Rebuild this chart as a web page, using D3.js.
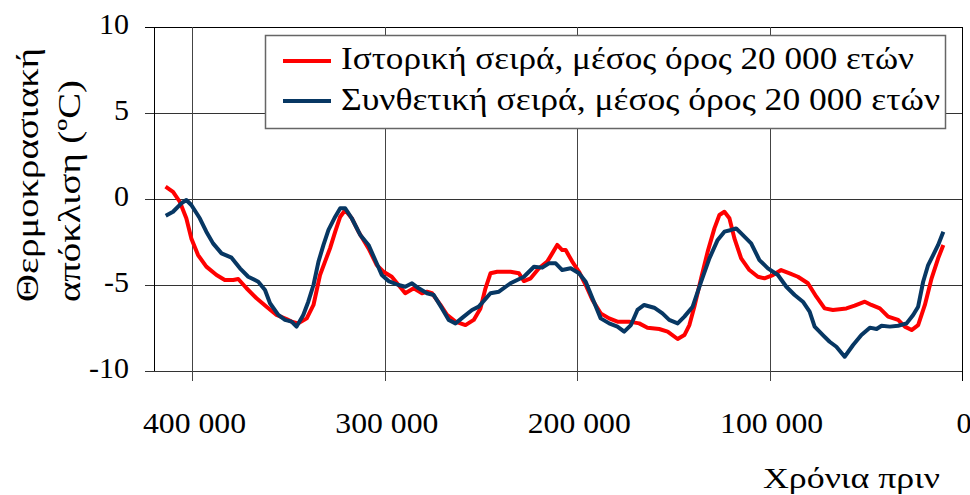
<!DOCTYPE html>
<html>
<head>
<meta charset="utf-8">
<script src="https://cdn.jsdelivr.net/npm/d3@7"></script>
<style>
  body { margin: 0; background: #fff; }
  text { font-family: "Liberation Serif", "DejaVu Serif", serif; fill: #000; }
</style>
</head>
<body>
<div id="chart"></div>
<script>
// years before present
const histYears = [414000, 410100, 406600, 403200, 400600, 397100, 392800, 387500, 383200, 378800,
  376200, 371900, 366700, 361500, 356300, 351100, 348500, 345000, 340600, 337100,
  333700, 331100, 328500, 325800, 323200, 320600, 317200, 313700, 308500, 304200,
  300700, 296400, 292900, 289400, 285000, 280700, 278100, 275500, 271100, 267700,
  263300, 258100, 253800, 250300, 247700, 245100, 241600, 234700, 230300, 227700,
  224200, 219900, 215600, 213000, 210400, 207800, 206000, 202600, 199100, 195600,
  192100, 187800, 183400, 179100, 173000, 167800, 163500, 157400, 153000, 147800,
  144300, 141700, 139100, 135600, 132200, 128700, 126100, 123500, 120900, 118300,
  114800, 110500, 106100, 102700, 98300, 94000, 89600, 85300, 80100, 75700,
  71400, 67100, 60100, 55800, 50500, 47100, 42700, 38400, 33200, 29700,
  26200, 22800, 19300, 15800, 12400, 9700];
const histValues = [0.72, 0.42, -0.16, -1.12, -2.29, -3.26, -3.93, -4.42, -4.71, -4.71,
  -4.65, -5.19, -5.77, -6.26, -6.74, -6.98, -7.13, -7.23, -6.94, -6.16,
  -4.42, -3.64, -2.87, -1.9, -1.03, -0.64, -1.12, -1.9, -2.87, -3.84,
  -4.23, -4.52, -5.0, -5.48, -5.19, -5.48, -5.39, -5.48, -6.16, -6.74,
  -7.13, -7.33, -7.03, -6.36, -5.19, -4.32, -4.23, -4.23, -4.32, -4.77,
  -4.61, -4.03, -3.64, -3.16, -2.67, -2.97, -2.97, -3.64, -4.23, -5.0,
  -5.87, -6.65, -6.94, -7.13, -7.13, -7.23, -7.48, -7.56, -7.71, -8.14,
  -7.91, -7.33, -6.25, -4.61, -3.06, -1.71, -0.93, -0.74, -1.12, -2.29,
  -3.45, -4.13, -4.52, -4.61, -4.42, -4.13, -4.32, -4.52, -4.9, -5.68,
  -6.36, -6.45, -6.36, -6.2, -5.97, -6.16, -6.36, -6.84, -7.03, -7.42,
  -7.62, -7.33, -6.16, -4.61, -3.45, -2.67];

const synthYears = [413900, 410100, 405800, 403200, 400600, 396200, 392800, 389300, 384900, 379700,
  375300, 371000, 365800, 362300, 359700, 355400, 351900, 348500, 345900, 342400,
  339800, 337100, 334500, 331900, 329300, 325800, 323200, 320600, 317200, 312800,
  308500, 305000, 301600, 298100, 292900, 289400, 285900, 282400, 278100, 274600,
  270300, 266800, 263300, 259000, 254700, 251200, 245100, 240700, 234700, 227700,
  222500, 218200, 214700, 211200, 207800, 203400, 199100, 195600, 192100, 187800,
  183400, 179100, 175600, 172100, 168700, 165200, 160000, 155700, 152200, 147800,
  144300, 140000, 135600, 131300, 127000, 123500, 120000, 117400, 114000, 109600,
  105300, 100900, 95700, 91300, 87000, 82700, 79200, 76600, 72300, 68800,
  65300, 61000, 56600, 52300, 47900, 44400, 41800, 37500, 33200, 28800,
  25400, 22800, 20200, 17600, 15000, 12400, 9700];
const synthValues = [-0.97, -0.74, -0.25, -0.06, -0.35, -1.12, -1.9, -2.58, -3.16, -3.41,
  -4.03, -4.52, -4.81, -5.29, -6.06, -6.74, -7.03, -7.13, -7.42, -6.74,
  -5.97, -5.0, -3.64, -2.67, -1.8, -1.03, -0.54, -0.54, -1.12, -2.09,
  -2.67, -3.55, -4.42, -4.77, -5.0, -5.1, -4.9, -5.19, -5.48, -5.58,
  -6.36, -7.03, -7.23, -6.84, -6.45, -6.26, -5.48, -5.39, -4.9, -4.52,
  -3.94, -3.99, -3.74, -3.74, -4.13, -4.03, -4.32, -4.81, -5.77, -6.94,
  -7.23, -7.42, -7.71, -7.33, -6.45, -6.16, -6.32, -6.65, -7.03, -7.23,
  -6.84, -6.26, -4.81, -3.45, -2.38, -1.9, -1.8, -1.71, -2.09, -2.58,
  -3.55, -4.03, -4.42, -5.1, -5.58, -5.97, -6.55, -7.42, -7.91, -8.3,
  -8.59, -9.17, -8.49, -7.91, -7.48, -7.56, -7.37, -7.42, -7.37, -7.23,
  -6.74, -6.26, -4.81, -3.84, -3.26, -2.67, -1.9];

const xTicks = [400000, 300000, 200000, 100000, 0];
const yTicks = [-10, -5, 0, 5, 10];
const seriesNames = ["Ιστορική σειρά, μέσος όρος 20 000 ετών", "Συνθετική σειρά, μέσος όρος 20 000 ετών"];
const seriesColors = ["#ff0000", "#073763"];
const yTitleLines = ["Θερμοκρασιακή", "απόκλιση (ºC)"];
const xTitle = "Χρόνια πριν";

const width = 970;
const height = 495;
const margin = { top: 27, bottom: 124, left: 154, right: 8 };
const chartWidth = width - margin.left - margin.right;
const chartHeight = height - margin.top - margin.bottom;

const svg = d3.select('#chart')
  .append('svg')
  .attr('width', width)
  .attr('height', height);

const chart = svg.append('g')
  .attr('transform', `translate(${margin.left},${margin.top})`);

const xScale = d3.scaleLinear()
  .domain([420000, 0])
  .range([0, chartWidth]);
const yScale = d3.scaleLinear()
  .domain([-10, 10])
  .range([chartHeight, 0]);

const fmt = d => d3.format(',')(d).replace(/,/g, ' ');

// the original font (Palatino-like) runs wider than Liberation Serif,
// so stretch the texts to the measured widths
const stretch = (sel, w) => sel.attr('textLength', w).attr('lengthAdjust', 'spacingAndGlyphs');

// grid
chart.selectAll('.hgrid')
  .data(yTicks)
  .enter()
  .append('line')
  .attr('x1', -9)
  .attr('x2', chartWidth)
  .attr('y1', d => Math.round(yScale(d)) + 0.5)
  .attr('y2', d => Math.round(yScale(d)) + 0.5)
  .attr('stroke', d => d === 10 ? '#000' : '#333')
  .attr('stroke-width', 1);

chart.selectAll('.vgrid')
  .data(xTicks)
  .enter()
  .append('line')
  .attr('x1', d => Math.round(xScale(d)) + 0.5)
  .attr('x2', d => Math.round(xScale(d)) + 0.5)
  .attr('y1', 0)
  .attr('y2', chartHeight + 10)
  .attr('stroke', d => d === 0 ? '#000' : '#444')
  .attr('stroke-width', 1);

// left axis line
chart.append('line')
  .attr('x1', 0.5).attr('x2', 0.5)
  .attr('y1', 0).attr('y2', chartHeight)
  .attr('stroke', '#000');

// y tick labels
chart.selectAll('.ylabel')
  .data(yTicks)
  .enter()
  .append('text')
  .attr('x', -25)
  .attr('y', d => yScale(d) + 7)
  .style('font-size', '30px')
  .style('text-anchor', 'end')
  .text(d => String(d));

// x tick labels
chart.selectAll('.xlabel')
  .data(xTicks)
  .enter()
  .append('text')
  .attr('x', d => xScale(d) + 2)
  .attr('y', chartHeight + 62)
  .style('font-size', '30px')
  .style('text-anchor', 'middle')
  .text(d => fmt(d))
  .each(function(d) { if (d) stretch(d3.select(this), 103); });

// series
const line = d3.line()
  .x(d => xScale(d[0]))
  .y(d => yScale(d[1]));

const series = [
  d3.zip(histYears, histValues),
  d3.zip(synthYears, synthValues)
];

chart.selectAll('.series')
  .data(series)
  .enter()
  .append('path')
  .attr('d', d => line(d))
  .attr('fill', 'none')
  .attr('stroke', (d, i) => seriesColors[i])
  .attr('stroke-width', 4)
  .attr('stroke-linejoin', 'round');

// legend
const legend = svg.append('g');
legend.append('rect')
  .attr('x', 265.5)
  .attr('y', 35.5)
  .attr('width', 680)
  .attr('height', 93)
  .attr('fill', '#fff')
  .attr('stroke', '#666')
  .attr('stroke-width', 1.5);

legend.selectAll('.lline')
  .data(seriesNames)
  .enter()
  .append('line')
  .attr('x1', 283)
  .attr('x2', 331)
  .attr('y1', (d, i) => 61 + i * 40)
  .attr('y2', (d, i) => 61 + i * 40)
  .attr('stroke', (d, i) => seriesColors[i])
  .attr('stroke-width', 4);

const legendWidths = [573, 599];
legend.selectAll('.ltext')
  .data(seriesNames)
  .enter()
  .append('text')
  .attr('x', 341)
  .attr('y', (d, i) => 69 + i * 41)
  .style('font-size', '31px')
  .text(d => d)
  .each(function(d, i) { stretch(d3.select(this), legendWidths[i]); });

// axis titles
const yTitleWidths = [254, 222];
svg.selectAll('.ytitle')
  .data(yTitleLines)
  .enter()
  .append('text')
  .attr('transform', (d, i) => `translate(${38 + i * 42}, 302) rotate(-90)`)
  .style('font-size', '32px')
  .style('text-anchor', 'start')
  .text(d => d)
  .each(function(d, i) { stretch(d3.select(this), yTitleWidths[i]); });

svg.append('text')
  .attr('x', 940)
  .attr('y', 488)
  .style('font-size', '30px')
  .style('text-anchor', 'end')
  .text(xTitle)
  .call(stretch, 177);
</script>
</body>
</html>
